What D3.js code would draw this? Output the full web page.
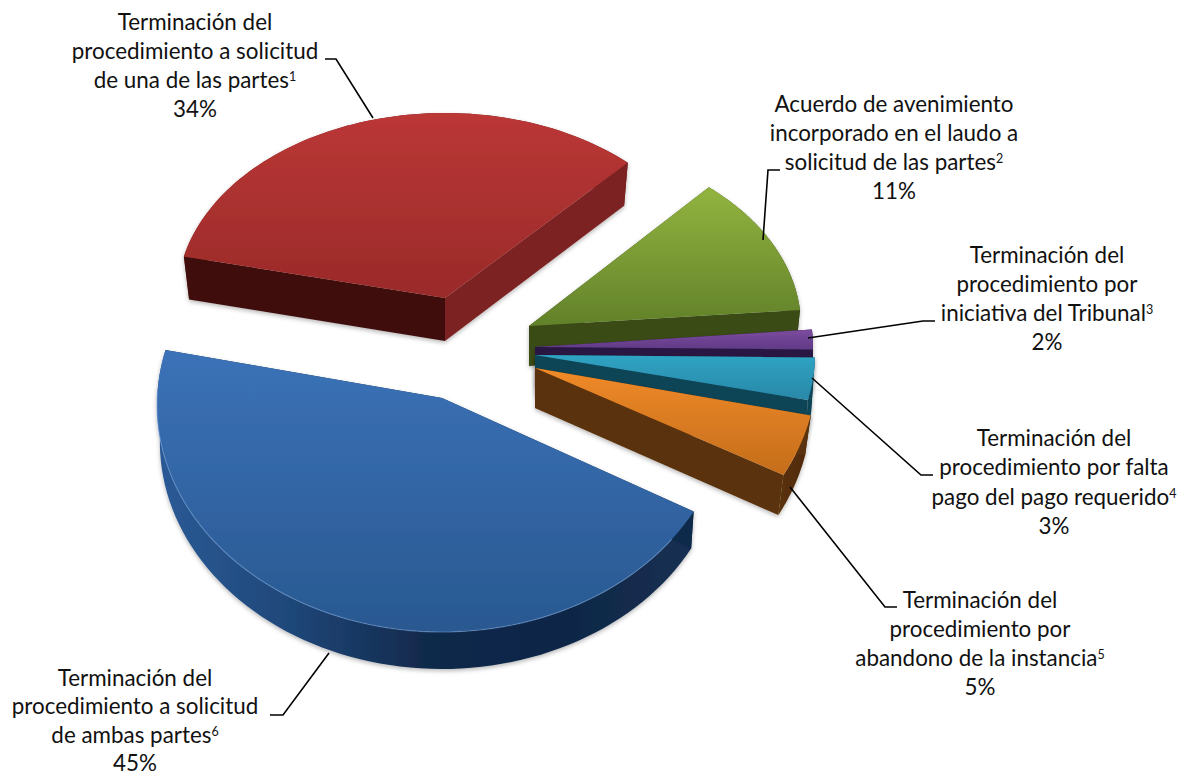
<!DOCTYPE html>
<html><head><meta charset="utf-8">
<script src="https://cdn.jsdelivr.net/npm/d3@7"></script>
<style>html,body{margin:0;background:#fff}svg{display:block}text{font-family:Lato,Carlito,sans-serif;fill:#111}</style>
</head><body><svg id="c" width="1190" height="776"></svg>
<script>
const categories=["Terminación del procedimiento a solicitud de una de las partes","Acuerdo de avenimiento incorporado en el laudo a solicitud de las partes","Terminación del procedimiento por iniciativa del Tribunal","Terminación del procedimiento por falta pago del pago requerido","Terminación del procedimiento por abandono de la instancia","Terminación del procedimiento a solicitud de ambas partes"];
const values=[34,11,2,3,5,45];
const labelLines=[
 ["Terminación del","procedimiento a solicitud",["de una de las partes","1"],"34%"],
 ["Acuerdo de avenimiento","incorporado en el laudo a",["solicitud de las partes","2"],"11%"],
 ["Terminación del","procedimiento por",["iniciativa del Tribunal","3"],"2%"],
 ["Terminación del","procedimiento por falta",["pago del pago requerido","4"],"3%"],
 ["Terminación del","procedimiento por",["abandono de la instancia","5"],"5%"],
 ["Terminación del","procedimiento a solicitud",["de ambas partes","6"],"45%"]];
// Projection of each exploded slice (perspective makes each one slightly different)
const geom=[
 {cx:445,cy:298,ax:445,ay:298,rx:268,ry:185,depth:43,bs:.98,da0:0,da1:-2.4},
 {cx:529,cy:326,ax:529,ay:326,rx:272,ry:185,depth:40,bs:.985,da0:-4,da1:0},
 {cx:535,cy:347,ax:535,ay:347,rx:278,ry:200,depth:40,bs:1,da0:0,da1:-1.5},
 {cx:535,cy:355,ax:535,ay:355,rx:280,ry:200,depth:40,bs:.99,da0:-1.5,da1:0},
 {cx:530,cy:368,ax:535,ay:368,rx:287,ry:228,depth:40,bs:.98,da0:-1,da1:-3},
 {cx:442,cy:405,ax:442,ay:398,rx:285,ry:227,depth:37,bs:.99,da0:-3,da1:1}];
const topCols=[["#bb3736","#9a2a29"],["#92b43f","#62812a"],["#7d4c9f","#5f3a86"],["#2fa3c3","#2a88a8"],["#f08a28","#c46d1c"],["#3b72b8","#295890"]];
const sideCols=[{start:"#3f0f0e",end:"#7c2421"},{start:"#3a4c18",end:"#3a4c18"},{start:"#2a1742",end:"#2a1742"},{start:"#0e4557",end:"#0e4557"},{start:"#5a3108",end:"#5a3108"},{start:"#11294b",end:"#11294b"}];
const wallCols=[["#7c2421","#6e1f1c"],["#3a4c18","#3a4c18"],["#2a1742","#2a1742"],["#0e4557","#0e4557"],["#5a3108","#4e2a07"],["#2b5a96","#1f4779","#11294b","#0f2746","#152f52"]];
const labelPos=[{x:195,y:30,h:29},{x:894,y:112,h:29},{x:1047,y:263,h:29},{x:1054,y:446,h:29.3},{x:980,y:608,h:29},{x:135,y:686,h:28.3}];
const leaders=[[[325,59],[336,59],[373,118]],[[780,170],[768,170],[763,240]],[[808,338],[923,321],[935,321]],[[812,378],[921,475],[933,475]],[[790,487],[885,607],[897,607]],[[329,653],[283,715],[270,715]]];

const svg=d3.select("#c"), defs=svg.append("defs");
const rad=d=>d*Math.PI/180;
const arcs=d3.pie().sort(null).startAngle(rad(-77)).endAngle(rad(283))(values);
const line=d3.line();
const f=defs.append("filter").attr("id","sh").attr("x","-5%").attr("y","-5%").attr("width","110%").attr("height","112%");
f.append("feDropShadow").attr("dx",0).attr("dy",2).attr("stdDeviation",2).attr("flood-color","#000").attr("flood-opacity",.28);
const b=defs.append("filter").attr("id","soft");
b.append("feGaussianBlur").attr("stdDeviation",.45);
function grad(id,cols,horizontal){
 const g=defs.append("linearGradient").attr("id",id).attr("x1",0).attr("y1",0).attr("x2",horizontal?1:0).attr("y2",horizontal?0:1);
 cols.forEach((c,i)=>g.append("stop").attr("offset",i/(cols.length-1)).attr("stop-color",c));
}
arcs.forEach((a,i)=>{
 const g=geom[i];
 grad("t"+i,topCols[i],false); grad("w"+i,wallCols[i],true);
 const ang=d3.scaleLinear().domain([0,1]).range([a.startAngle+rad(g.da0),a.endAngle+rad(g.da1)]);
 const ts=d3.range(0,1.0001,1/80);
 const rim=ts.map(t=>[g.cx+g.rx*Math.sin(ang(t)),g.cy-g.ry*Math.cos(ang(t))]);
 const low=ts.map(t=>[g.cx+g.rx*g.bs*Math.sin(ang(t)),g.cy-g.ry*Math.cos(ang(t))+g.depth]);
 const A=[g.ax,g.ay],B=[g.ax,g.ay+g.depth];
 const n=rim.length-1;
 const s=svg.append("g").attr("filter","url(#sh)").append("g").attr("filter","url(#soft)");
 s.append("path").attr("d",line([...rim,...low.slice().reverse()])+"Z").attr("fill",`url(#w${i})`);
 s.append("path").attr("d",line([A,rim[n],low[n],B])+"Z").attr("fill",sideCols[i].end);
 s.append("path").attr("d",line([A,rim[0],low[0],B])+"Z").attr("fill",sideCols[i].start);
 s.append("path").attr("d",line([A,...rim])+"Z").attr("fill",`url(#t${i})`);
 if(i===5) s.append("path").attr("d",line(rim.slice(4,n-4))).attr("fill","none").attr("stroke","#6f9ad2").attr("stroke-opacity",.55).attr("stroke-width",1.2);
});
leaders.forEach(p=>svg.append("path").attr("d",line(p)).attr("fill","none").attr("stroke","#000").attr("stroke-width",1.6));
labelLines.forEach((ls,i)=>{
 const t=svg.append("text").attr("text-anchor","middle").attr("font-size",22.4);
 ls.forEach((l,j)=>{
  const main=Array.isArray(l)?l[0]:l;
  t.append("tspan").attr("x",labelPos[i].x).attr("y",labelPos[i].y+j*labelPos[i].h).text(main);
  if(Array.isArray(l)) t.append("tspan").attr("dy",-7).attr("font-size",12.5).text(l[1]);
 });
});
</script></body></html>
